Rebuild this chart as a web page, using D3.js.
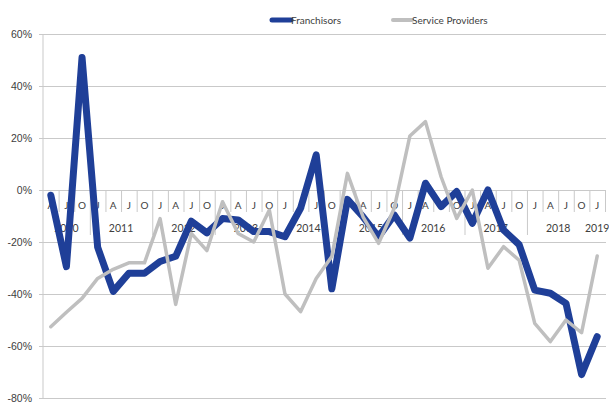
<!DOCTYPE html>
<html>
<head>
<meta charset="utf-8">
<script src="https://cdn.jsdelivr.net/npm/d3@7"></script>
<style>
  html, body { margin: 0; padding: 0; background: #fff; }
  svg { display: block; font-family: Lato, "Liberation Sans", sans-serif; }
</style>
</head>
<body>
<svg id="chart" width="609" height="403"></svg>
<script>
// Quarter labels (A = April, J = July, O = October, J = January)
const quarterLabels = [
  "A","J","O",
  "J","A","J","O",
  "J","A","J","O",
  "J","A","J","O",
  "J","A","J","O",
  "J","A","J","O",
  "J","A","J","O",
  "J","A","J","O",
  "J","A","J","O",
  "J"
];
const yearLabels = ["2010","2011","2012","2013","2014","2015","2016","2017","2018","2019"];
const quartersPerYear = [3, 4, 4, 4, 4, 4, 4, 4, 4, 1];

// Year-over-year change, percent
const franchisors = [
  -2, -29.5, 51,
  -22, -39, -32, -32,
  -27.5, -25.5, -12, -16.5,
  -11, -11.5, -16, -16,
  -18, -7, 13.5, -38,
  -3.6, -10.3, -18, -9.6,
  -18.5, 2.6, -6.4, -0.6,
  -12.8, 0, -15.4, -21,
  -38.5, -39.7, -43.6, -71,
  -56.4
];
const serviceProviders = [
  -52.6, -47, -41.7,
  -34, -30.5, -28, -28,
  -11, -44, -16.7, -23.3,
  -4.5, -16.7, -20, -7.7,
  -40, -46.8, -34, -25.6,
  6.4, -10.3, -20.5, -7,
  20.8, 26.3, 5.1, -10.9,
  0, -30.1, -21.8, -27,
  -51.3, -58.3, -50, -54.9,
  -25.4
];
const yTicks = [60, 40, 20, 0, -20, -40, -60, -80];

const seriesNames = ["Franchisors", "Service Providers"];
const seriesColors = ["#1F3F98", "#BFBFBF"];

const svg = d3.select("#chart");
const plotLeft = 43, plotRight = 605, plotTop = 34, plotBottom = 398;

const x = d3.scaleBand()
  .domain(d3.range(quarterLabels.length))
  .range([plotLeft, plotRight])
  .paddingInner(0).paddingOuter(0);

const y = d3.scaleLinear().domain([-80, 60]).range([plotBottom, plotTop]);

const gridColor = "#C9C9C9";
const textColor = "#404040";

// Horizontal gridlines and value labels
const yAxis = d3.axisLeft(y)
  .tickValues(yTicks)
  .tickFormat(d => d + "%")
  .tickSize(-(plotRight + 1 - plotLeft) - 4)
  .tickPadding(6);

const gy = svg.append("g")
  .attr("transform", `translate(${plotLeft - 4},0)`)
  .call(yAxis);
gy.select(".domain").remove();
gy.selectAll(".tick line").attr("stroke", gridColor).attr("stroke-width", 1)
  .attr("x1", 0);
gy.selectAll(".tick text")
  .attr("fill", textColor)
  .attr("font-size", 10.5)
  .attr("x", -7);

// Vertical axis line
svg.append("line")
  .attr("x1", plotLeft).attr("x2", plotLeft)
  .attr("y1", plotTop).attr("y2", plotBottom)
  .attr("stroke", gridColor);

// Category axis along the zero line
const y0 = y(0);
const cat = svg.append("g");

const yearStarts = [];
let acc = 0;
quartersPerYear.forEach(n => { yearStarts.push(acc); acc += n; });
const yearBoundarySet = new Set(yearStarts.slice(1, yearStarts.length - 1));

// Quarter separators (longer at year breaks)
const boundaries = d3.range(1, quarterLabels.length + 1);
const bx = i => (i < quarterLabels.length ? x(i) : plotRight);
cat.selectAll("line.q")
  .data(boundaries)
  .join("line")
  .attr("class", "q")
  .attr("x1", i => bx(i) + 0.5)
  .attr("x2", i => bx(i) + 0.5)
  .attr("y1", y0)
  .attr("y2", i => yearBoundarySet.has(i) ? y0 + 45 : y0 + 22)
  .attr("stroke", gridColor);

// Quarter labels
cat.selectAll("text.q")
  .data(quarterLabels)
  .join("text")
  .attr("class", "q")
  .attr("x", (d, i) => x(i) + x.bandwidth() / 2)
  .attr("y", y0 + 19)
  .attr("text-anchor", "middle")
  .attr("font-size", 10)
  .attr("fill", textColor)
  .text(d => d);

// Year labels
cat.selectAll("text.y")
  .data(yearLabels)
  .join("text")
  .attr("class", "y")
  .attr("x", (d, k) => x(yearStarts[k]) + (quartersPerYear[k] * x.bandwidth()) / 2)
  .attr("y", y0 + 42)
  .attr("text-anchor", "middle")
  .attr("font-size", 10.5)
  .attr("fill", textColor)
  .text(d => d);

// Series lines
const line = d3.line()
  .x((d, i) => x(i) + x.bandwidth() / 2)
  .y(d => y(d));

svg.append("path")
  .datum(franchisors)
  .attr("d", line)
  .attr("fill", "none")
  .attr("stroke", seriesColors[0])
  .attr("stroke-width", 7)
  .attr("stroke-linejoin", "round")
  .attr("stroke-linecap", "round");

svg.append("path")
  .datum(serviceProviders)
  .attr("d", line)
  .attr("fill", "none")
  .attr("stroke", seriesColors[1])
  .attr("stroke-width", 3.5)
  .attr("stroke-linejoin", "round")
  .attr("stroke-linecap", "round");

// Legend
const legend = svg.append("g");
const legendItems = [
  { name: seriesNames[0], color: seriesColors[0], width: 5, x0: 272 },
  { name: seriesNames[1], color: seriesColors[1], width: 4, x0: 393 }
];
legendItems.forEach(it => {
  legend.append("line")
    .attr("x1", it.x0).attr("x2", it.x0 + 19)
    .attr("y1", 20).attr("y2", 20)
    .attr("stroke", it.color)
    .attr("stroke-width", it.width)
    .attr("stroke-linecap", "round");
  legend.append("text")
    .attr("x", it.x0 + 19)
    .attr("y", 23.5)
    .attr("font-size", 10)
    .attr("fill", textColor)
    .text(it.name);
});
</script>
</body>
</html>
